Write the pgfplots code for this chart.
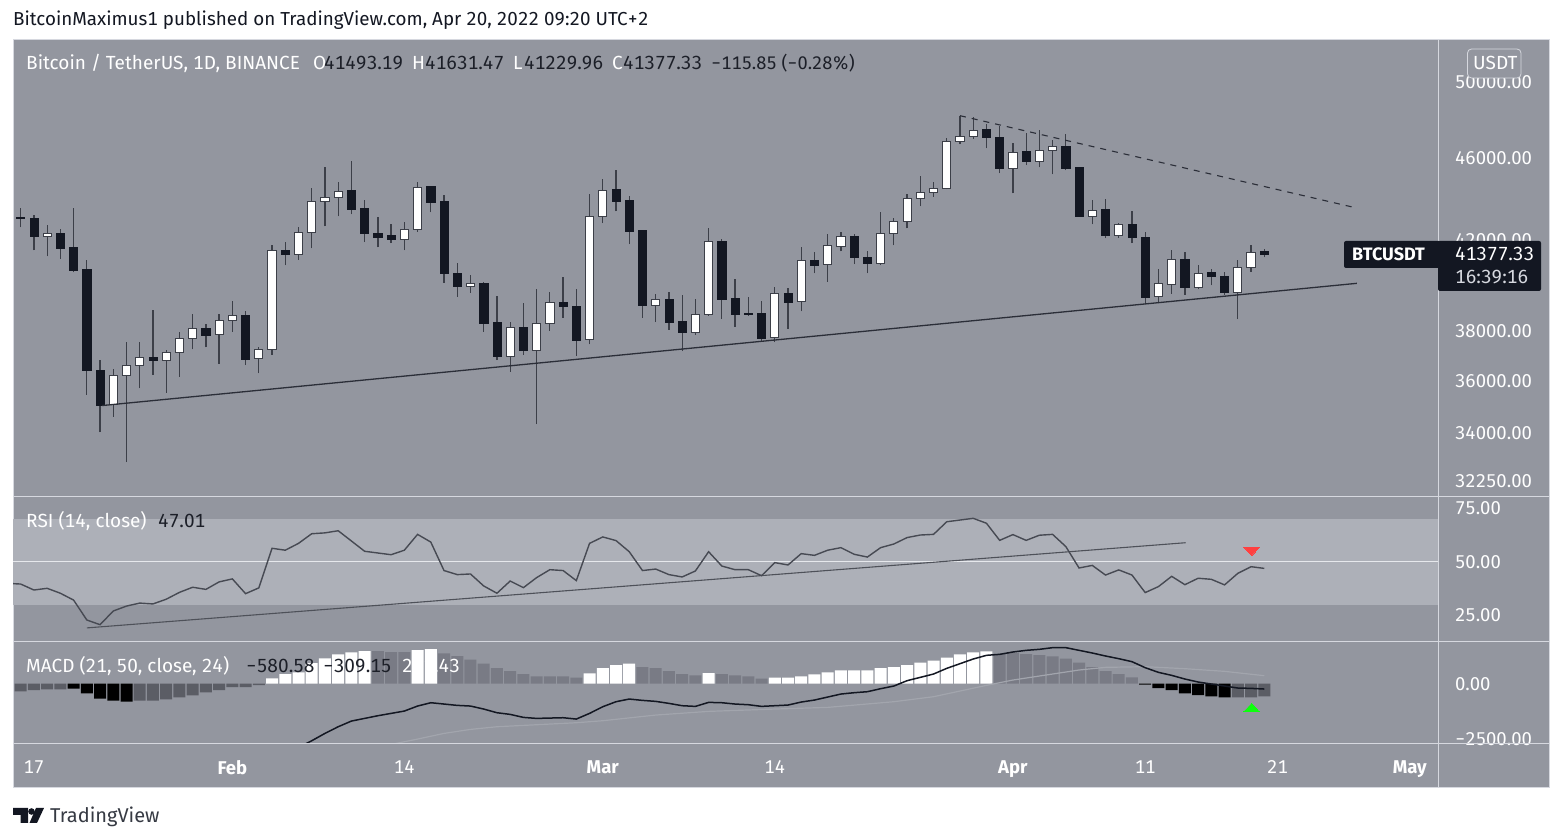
\documentclass[border=0pt]{standalone}
\usepackage{pgfplots}
\usepackage{pgfplotstable}
\usepackage{fontspec}
\setmainfont[Numbers={Lining,Monospaced}]{Fira Sans}
\pgfplotsset{compat=1.18}
\definecolor{pbg}{HTML}{93969F}
\definecolor{band}{HTML}{ADB0B8}
\definecolor{sep}{HTML}{D6D8DF}
\definecolor{ink}{HTML}{131722}
\definecolor{wickc}{HTML}{3C3F48}
\definecolor{histg}{HTML}{797B85}
\definecolor{histd}{HTML}{5B5D65}
\definecolor{legd}{HTML}{1C1F28}
\definecolor{sigc}{HTML}{A2A5AD}

\pgfplotstableread{
d o h l c
16 43080 43509 42609 43050
17 43051 43209 41548 42188
18 42188 42703 41274 42340
19 42340 42545 41167 41655
20 41670 43509 40553 40641
21 40670 41106 35451 36411
22 36437 36815 34010 35038
23 35064 36464 34607 36214
24 36214 37552 32922 36624
25 36624 37552 35701 36938
26 36951 38924 36240 36801
27 36801 37251 35543 37156
28 37156 37976 36161 37716
29 37702 38741 37265 38146
30 38160 38330 37347 37866
31 37893 38741 36678 38458
32 38458 39292 38005 38684
33 38698 38882 36624 36883
34 36883 37361 36293 37279
35 37279 41776 37047 41563
36 41563 41914 40863 41350
37 41365 42640 41122 42387
38 42387 44510 41639 43841
39 43825 45509 42656 44035
40 44035 44772 43130 44329
41 44362 45830 43225 43478
42 43493 43920 41929 42325
43 42340 43098 41685 42172
44 42218 42751 41883 42035
45 42035 42861 41548 42530
46 42530 44772 42403 44542
47 44575 44608 43320 43825
48 43841 44149 40083 40509
49 40523 40954 39481 39951
50 39951 40435 39672 40054
51 40068 40127 38005 38373
52 38387 39511 36828 36965
53 36978 38429 36372 38189
54 38203 39236 37047 37224
55 37238 39833 34328 38330
56 38330 39701 38047 39236
57 39236 40347 38585 39066
58 39094 39833 37006 37661
59 37661 44215 37470 43130
60 43130 44936 42814 44395
61 44411 45394 43367 43873
62 43888 44100 41837 42419
63 42451 42482 38585 39123
64 39123 39599 38401 39364
65 39364 39701 38090 38401
66 38429 39555 37197 37962
67 37962 39378 37866 38726
68 38726 42593 38670 41959
69 41959 42051 38542 39393
70 39422 40259 38217 38712
71 38783 39467 38670 38712
72 38783 39321 37593 37743
73 37743 39922 37565 39628
74 39643 39877 38132 39264
75 39264 41716 38854 41076
76 41091 41472 40509 40878
77 40893 42294 40127 41761
78 41746 42403 41502 42188
79 42203 42279 40924 41213
80 41228 41533 40509 40969
81 40969 43335 40878 42325
82 42325 43051 41776 42877
83 42877 44215 42561 43985
84 43985 45083 43604 44280
85 44297 44772 44067 44493
86 44493 47003 44428 46833
87 46833 48157 46697 47088
88 47105 48104 46969 47399
89 47434 47716 46476 47037
90 47054 47611 45214 45476
91 45476 46748 44231 46289
92 46306 47241 45626 45796
93 45796 47417 45509 46391
94 46391 46918 45165 46561
95 46578 47224 45361 45476
96 45509 45509 43114 43114
97 43130 43904 42751 43430
98 43446 43953 42112 42218
99 42233 42798 42127 42735
100 42751 43383 41883 42127
101 42157 42387 39179 39481
102 39481 40714 39207 40054
103 40039 41578 39628 41137
104 41137 41472 39569 39907
105 39892 40863 39804 40523
106 40538 40714 39980 40362
107 40377 40567 39569 39672
108 39672 41106 38528 40788
109 40788 41776 40582 41472
110 41493 41631 41230 41377
}\ohlc

\pgfplotsset{
  panel/.style={
    scale only axis, clip=true,
    xmin=15.42, xmax=123.17,
    width=1425.5pt,
    axis line style={draw=none},
    tick style={draw=none},
    major tick length=0pt,
    yticklabel pos=right,
    tick label style={font=\fontsize{18.5}{20}\selectfont, text=white},
    yticklabel style={anchor=west},
    ytick pos=right,
    tick align=inside,
  },
  wick/.style={wickc, line width=1.25pt, forget plot},
  upc/.style={draw=wickc, fill=white, line width=0.9pt, forget plot},
  dnc/.style={draw=ink, fill=ink, line width=0.6pt, forget plot},
  hbar/.style={ybar, bar width=12pt, bar shift=0pt, draw=none, fill=#1, forget plot},
}
\newcommand{\T}[4]{\node[anchor=base west, inner sep=0pt, text=#3] at (#1,{837-#2}) {\fontsize{19}{20}\selectfont #4};}

\begin{document}
\begin{tikzpicture}[x=1pt,y=1pt]
\fill[white] (0,0) rectangle (1561,837);
\fill[pbg] (13,{837-40}) rectangle (1549,{837-788});
\draw[sep, line width=1pt] (13,{837-40}) rectangle (1549,{837-788});

% ---------- price pane
\begin{axis}[panel, at={(13pt,340.5pt)}, anchor=south west, height=456.5pt,
  ymode=log, ymin=31706, ymax=52362, yminorticks=false, xtick=\empty,
  ytick={32250,34000,36000,38000,42000,46000,50000},
  yticklabels={32250.00,34000.00,36000.00,38000.00,42000.00,46000.00,50000.00},
  tick label style={xshift=13pt}]
\pgfplotsinvokeforeach{0,...,94}{%
  \pgfplotstablegetelem{#1}{d}\of\ohlc \edef\cD{\pgfplotsretval}%
  \pgfplotstablegetelem{#1}{o}\of\ohlc \edef\cO{\pgfplotsretval}%
  \pgfplotstablegetelem{#1}{h}\of\ohlc \edef\cH{\pgfplotsretval}%
  \pgfplotstablegetelem{#1}{l}\of\ohlc \edef\cL{\pgfplotsretval}%
  \pgfplotstablegetelem{#1}{c}\of\ohlc \edef\cC{\pgfplotsretval}%
  \pgfmathsetmacro\xl{\cD-0.31}%
  \pgfmathsetmacro\xr{\cD+0.31}%
  \ifnum\cC>\cO\relax \def\sty{upc}\else \def\sty{dnc}\fi
  \edef\temp{\noexpand\addplot[wick] coordinates {(\cD,\cL)(\cD,\cH)};
    \noexpand\addplot[\sty] coordinates {(\xl,\cO)(\xr,\cO)(\xr,\cC)(\xl,\cC)} -- cycle;}%
  \temp
}
\addplot[color=ink!90!white, line width=1.3pt] coordinates {(22.15,35032)(117.0,40068)};
\addplot[color=ink!90!white, line width=1.1pt, dash pattern=on 6pt off 6pt] coordinates {(87.0,48175)(117.0,43525)};
\end{axis}

% ---------- RSI pane
\begin{axis}[panel, at={(13pt,195pt)}, anchor=south west, height=145.5pt,
  ymin=12.62, ymax=80.6, xtick=\empty,
  ytick={25,50,75}, yticklabels={25.00,50.00,75.00},
  tick label style={xshift=13pt}]
\addplot[draw=none, fill=band, forget plot] coordinates {(15,30)(124,30)(124,70)(15,70)} -- cycle;
\addplot[color=sep!60!white, line width=1pt, forget plot] coordinates {(15,50)(124,50)};
\addplot[color=ink!75!white, line width=1.1pt] coordinates {(21.0,19.2)(104.05,59.0)};
\addplot[color=ink!78!white, line width=1.4pt] coordinates {
(15,40.0)(16,39.7)(17,36.9)(18,37.7)(19,35.4)(20,32.2)(21,22.9)(22,20.7)(23,27.1)(24,29.4)
(25,30.8)(26,30.4)(27,32.6)(28,35.8)(29,38.2)(30,37.2)(31,40.7)(32,42.1)(33,35.2)(34,37.9)
(35,56.4)(36,55.5)(37,58.7)(38,63.2)(39,63.6)(40,64.6)(41,59.8)(42,55.0)(43,54.2)(44,53.4)
(45,55.5)(46,62.9)(47,59.3)(48,46.0)(49,44.1)(50,44.4)(51,38.8)(52,35.4)(53,41.1)(54,38.0)
(55,42.7)(56,46.4)(57,46.0)(58,41.3)(59,58.7)(60,61.7)(61,60.0)(62,54.8)(63,46.0)(64,46.7)
(65,44.1)(66,43.0)(67,45.8)(68,54.8)(69,48.1)(70,46.4)(71,46.4)(72,43.6)(73,49.7)(74,48.6)
(75,53.9)(76,53.1)(77,55.5)(78,56.7)(79,53.6)(80,52.3)(81,56.7)(82,58.4)(83,61.4)(84,62.6)
(85,62.9)(86,68.8)(87,69.6)(88,70.4)(89,68.1)(90,60.1)(91,62.8)(92,60.1)(93,62.5)(94,62.9)
(95,57.2)(96,47.2)(97,48.4)(98,43.9)(99,46.3)(100,43.9)(101,35.7)(102,38.5)(103,43.3)(104,39.4)
(105,42.4)(106,41.9)(107,39.3)(108,44.7)(109,47.8)(110,47.01)};
\addplot[only marks, color=red!75!white, mark=triangle*, mark size=9pt, mark options={rotate=180, solid, fill=red!75!white, draw=red!75!white, line width=0pt, yscale=0.62}] coordinates {(109.05,55.6)};
\end{axis}

% ---------- MACD pane
\begin{axis}[panel, at={(13pt,93pt)}, anchor=south west, height=102pt,
  ymin=-2711, ymax=1875,
  ytick={-2500,0}, yticklabels={−2500.00,0.00},
  xtick={17,32,45,60,73,91,101,111,121},
  xticklabels={17,\textbf{Feb},14,\textbf{Mar},14,\textbf{Apr},11,21,\textbf{May}},
  xticklabel style={yshift=-13pt},
  yticklabel style={xshift=13pt}]
\addplot[hbar=histd] coordinates {(16,-345)(17,-285)(18,-255)(19,-255)
 (25,-765)(26,-765)(27,-705)(28,-615)(29,-525)(30,-390)(31,-285)(32,-150)(33,-150)(34,-60)
 (108,-615)(109,-615)(110,-570)};
\addplot[hbar=black] coordinates {(20,-225)(21,-435)(22,-675)(23,-765)(24,-810)
 (101,-45)(102,-195)(103,-285)(104,-435)(105,-510)(106,-570)(107,-615)};
\addplot[hbar=white] coordinates {(35,240)(36,435)(37,510)(38,930)(39,1140)(40,1320)(41,1410)(42,1470)
 (46,1515)(47,1560)(59,465)(60,705)(61,840)(62,900)(68,480)
 (73,270)(74,270)(75,330)(76,420)(77,510)(78,600)(79,600)(80,600)(81,705)(82,750)(83,840)(84,945)
 (85,1035)(86,1170)(87,1320)(88,1410)(89,1455)};
\addplot[hbar=histg] coordinates {(43,1470)(44,1425)(45,1425)
 (48,1365)(49,1245)(50,1080)(51,900)(52,705)(53,570)(54,435)(55,330)(56,330)(57,330)(58,270)
 (63,750)(64,705)(65,570)(66,435)(67,375)(69,435)(70,375)(71,330)(72,225)
 (90,1335)(91,1380)(92,1335)(93,1290)(94,1230)(95,1125)(96,945)(97,750)(98,570)(99,435)(100,285)};
\addplot[color=sigc, line width=1.2pt] coordinates {(44,-2730)(46,-2490)(48,-2235)(50,-2055)(52,-1935)(53,-1905)(58,-1755)(60,-1665)(64,-1410)(68,-1245)(73,-1140)(77,-1065)(82,-810)(85,-585)(89,-75)(91,165)(93,345)(96,615)(98,735)(101,765)(104,675)(107,555)(110,360)};
\addplot[color=ink, line width=1.5pt] coordinates {
(37,-2865)(38,-2565)(39,-2235)(40,-1935)(41,-1680)(42,-1560)(43,-1440)(44,-1335)(45,-1230)(46,-1005)
(47,-855)(48,-915)(49,-975)(50,-1005)(51,-1140)(52,-1305)(53,-1380)(54,-1515)(55,-1560)(56,-1545)
(57,-1530)(58,-1590)(59,-1335)(60,-1035)(61,-810)(62,-690)(63,-750)(64,-795)(65,-885)(66,-990)
(67,-1020)(68,-840)(69,-855)(70,-915)(71,-945)(72,-1020)(73,-990)(74,-960)(75,-825)(76,-735)
(77,-600)(78,-465)(79,-405)(80,-360)(81,-225)(82,-105)(83,135)(84,285)(85,435)(86,690)
(87,900)(88,1110)(89,1275)(90,1320)(91,1425)(92,1500)(93,1545)(94,1620)(95,1620)(96,1500)
(97,1380)(98,1245)(99,1125)(100,990)(101,720)(102,510)(103,375)(104,210)(105,75)(106,-15)
(107,-105)(108,-195)(109,-210)(110,-240)};
\addplot[only marks, color=green!95!white, mark=triangle*, mark size=9pt, mark options={solid, fill=green!95!white, draw=green!95!white, line width=0pt, yscale=0.62}] coordinates {(109.05,-1130)};
\end{axis}

% ---------- separators
\draw[sep, line width=1pt] (1438.5,{837-40}) -- (1438.5,{837-788});
\draw[sep, line width=1pt] (13,340.5) -- (1549,340.5);
\draw[sep, line width=1pt] (13,195) -- (1549,195);
\draw[sep, line width=1pt] (13,93) -- (1549,93);

% ---------- texts
\node[anchor=base west, inner sep=0pt, text=ink] at (13,{837-26}) {\fontsize{18.8}{20}\selectfont BitcoinMaximus1 published on TradingView.com, Apr 20, 2022 09:20 UTC+2};
\T{26}{70}{white}{Bitcoin / TetherUS, 1D, BINANCE}
\T{313}{70}{white}{O}\T{324}{70}{legd}{41493.19}
\T{412}{70}{white}{H}\T{425}{70}{legd}{41631.47}
\T{513}{70}{white}{L}\T{524}{70}{legd}{41229.96}
\T{612}{70}{white}{C}\T{623}{70}{legd}{41377.33}
\node[anchor=base west, inner sep=0pt, text=legd] at (711,{837-70}) {\fontsize{18.2}{20}\selectfont −115.85 (−0.28\%)};
\T{26}{528}{white}{RSI (14, close)}
\T{158}{528}{legd}{47.01}
\T{26}{673}{white}{MACD (21, 50, close, 24)}
\T{246}{673}{legd}{−580.58}
\T{323}{673}{legd}{−309.15}
\T{402}{673}{white}{271.43}

% ---------- USDT box
\draw[fill=pbg, draw=sep, line width=0.8pt, rounded corners=4pt] (1467.5,{837-49}) rectangle (1521,{837-78});
\T{1473}{70}{white}{USDT}

% ---------- badge
\fill[ink, rounded corners=2pt] (1344,{837-241}) rectangle (1441,{837-268});
\fill[ink, rounded corners=2pt] (1438,{837-241}) rectangle (1541,{837-291});
\node[anchor=base west, inner sep=0pt, text=white] at (1352,{837-261}) {\fontsize{18}{20}\selectfont\bfseries BTCUSDT};
\T{1455}{261}{white}{41377.33}
\T{1455}{284}{sep}{16:39:16}

% ---------- footer logo
\fill[ink] (13,{837-808}) -- (28,{837-808}) -- (28,{837-823}) -- (20.5,{837-823}) -- (20.5,{837-815}) -- (13,{837-815}) -- cycle;
\fill[ink] (31.5,{837-811.5}) circle (3.3);
\fill[ink] (36,{837-808}) -- (44,{837-808}) -- (37,{837-823}) -- (29.5,{837-823}) -- cycle;
\node[anchor=base west, inner sep=0pt, text=ink!85!white] at (50,{837-823}) {\fontsize{20}{22}\selectfont TradingView};
\end{tikzpicture}
\end{document}
